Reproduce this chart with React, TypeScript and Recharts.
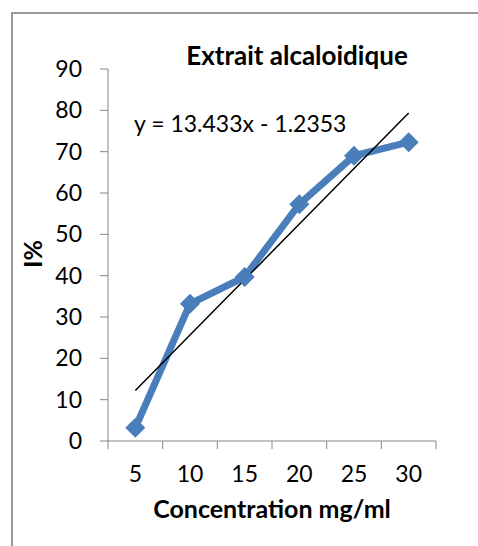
import { Line, LineChart, XAxis, YAxis } from 'recharts'

const concentrations = ['5', '10', '15', '20', '25', '30']
const inhibition = [3.2, 33.2, 39.7, 57.3, 69.0, 72.3]
const yTicks = [0, 10, 20, 30, 40, 50, 60, 70, 80, 90]

// linear trendline y = 13.433x - 1.2353 (x = category index, 1-based)
const slope = 13.433
const intercept = -1.2353

const data = concentrations.map((conc, i) => ({
  conc,
  inhibition: inhibition[i],
  trend: slope * (i + 1) + intercept,
}))

const FONT = 'Lato, "Open Sans", sans-serif'
const AXIS = '#868686'
const BLUE = '#4A7EBB'
const PLOT_W = 328
const BAND = PLOT_W / concentrations.length

function CategoryTick(props: any) {
  const { x, y, payload, index } = props
  const half = BAND / 2
  return (
    <g>
      <line x1={x - half} y1={y - 8} x2={x - half} y2={y} stroke={AXIS} />
      {index === concentrations.length - 1 && (
        <line x1={x + half} y1={y - 8} x2={x + half} y2={y} stroke={AXIS} />
      )}
      <text x={x} y={y + 33} textAnchor="middle" fill="#000" fontSize={23} fontFamily={FONT}>
        {payload.value}
      </text>
    </g>
  )
}

function Diamond(props: any) {
  const { cx, cy } = props
  if (cx == null || cy == null) return null
  const r = 10
  return (
    <polygon
      points={`${cx},${cy - r} ${cx + r},${cy} ${cx},${cy + r} ${cx - r},${cy}`}
      fill={BLUE}
    />
  )
}

export default function App() {
  return (
    <div
      style={{
        position: 'absolute',
        left: 0,
        top: 0,
        width: 478,
        height: 546,
        overflow: 'hidden',
        background: '#fff',
      }}
    >
      <div
        style={{
          position: 'absolute',
          left: 11,
          top: 12,
          width: 520,
          height: 600,
          borderLeft: '2px solid #9a9a9a',
          borderTop: '2px solid #9a9a9a',
        }}
      />
      <LineChart
        width={478}
        height={546}
        data={data}
        margin={{ top: 69, right: 42, left: 60, bottom: 75 }}
      >
        <XAxis
          dataKey="conc"
          height={30}
          padding={{ left: BAND / 2, right: BAND / 2 }}
          interval={0}
          tickLine={false}
          tickSize={8}
          tickMargin={0}
          axisLine={{ stroke: AXIS }}
          tick={<CategoryTick />}
        />
        <YAxis
          width={48}
          domain={[0, 90]}
          ticks={yTicks}
          interval={0}
          tickSize={8}
          tickMargin={18}
          axisLine={{ stroke: AXIS }}
          tickLine={{ stroke: AXIS }}
          tick={{ fill: '#000', fontSize: 23, fontFamily: FONT }}
        />
        <Line
          type="linear"
          dataKey="inhibition"
          stroke={BLUE}
          strokeWidth={7}
          dot={<Diamond />}
          activeDot={false}
          isAnimationActive={false}
        />
        <Line
          type="linear"
          dataKey="trend"
          stroke="#000"
          strokeWidth={1.5}
          dot={false}
          activeDot={false}
          isAnimationActive={false}
        />
        <text x={297} y={65} textAnchor="middle" fontSize={26} fontWeight="bold" fontFamily={FONT}>
          Extrait alcaloidique
        </text>
        <text x={134} y={132} fontSize={23} fontFamily={FONT}>
          y = 13.433x - 1.2353
        </text>
        <text x={272} y={518} textAnchor="middle" fontSize={25} fontWeight="bold" fontFamily={FONT}>
          Concentration mg/ml
        </text>
        <text
          x={42}
          y={254}
          textAnchor="middle"
          fontSize={25}
          fontWeight="bold"
          fontFamily={FONT}
          transform="rotate(-90 42 254)"
        >
          I%
        </text>
      </LineChart>
    </div>
  )
}
